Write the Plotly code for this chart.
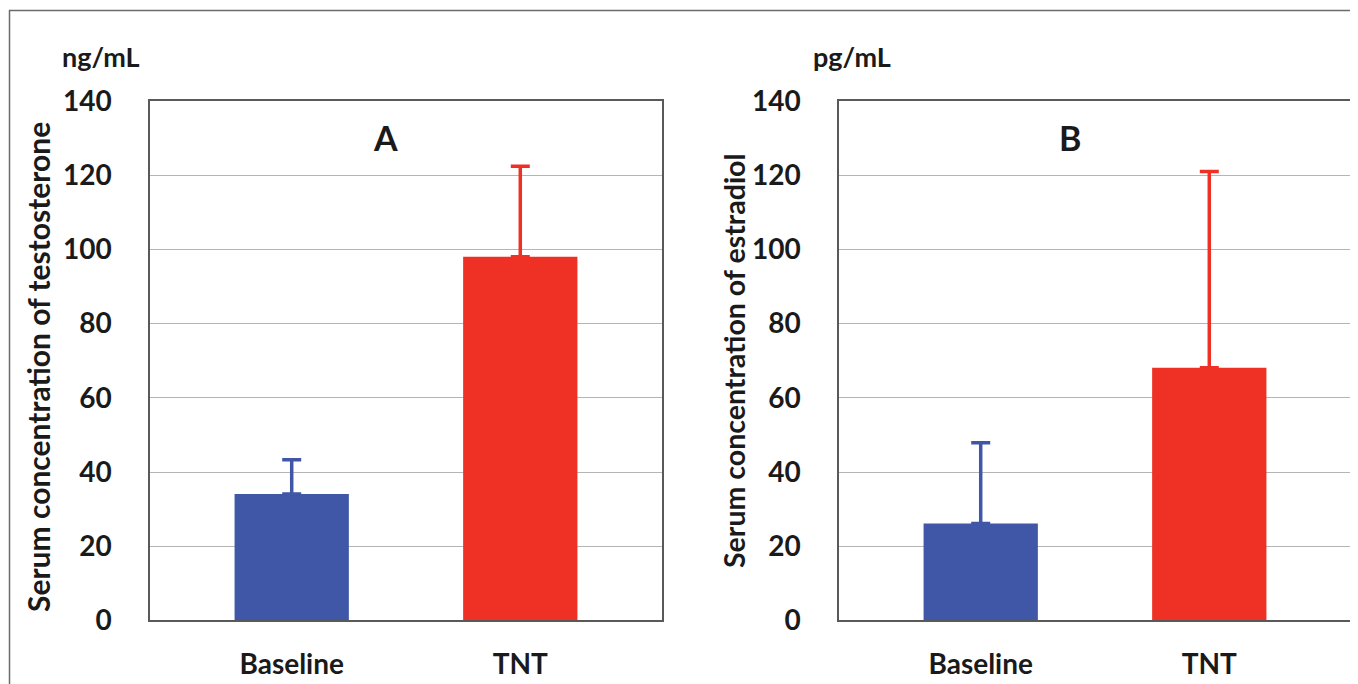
import plotly.graph_objects as go

W, H = 1358, 684
OFF = 8  # page body margin

categories = ["Baseline", "TNT"]
testosterone_mean = [34.1, 98.0]
testosterone_sd = [9.2, 24.4]
estradiol_mean = [26.1, 68.1]
estradiol_sd = [21.8, 52.9]
y_ticks = [0, 20, 40, 60, 80, 100, 120, 140]
bar_colors = ["#3F57A6", "#EE3124"]

FONT = "Lato"

def px_x(p):
    return (p - OFF) / W

def px_y(p):
    return 1 - (p - OFF) / H

fig = go.Figure()

for i, cat in enumerate(categories):
    fig.add_trace(go.Bar(
        x=[cat], y=[testosterone_mean[i]], width=0.5,
        marker=dict(color=bar_colors[i], line=dict(width=0)),
        error_y=dict(type="data", symmetric=False, array=[testosterone_sd[i]], arrayminus=[0],
                     color=bar_colors[i], thickness=3.5, width=9.5),
        xaxis="x", yaxis="y", showlegend=False))
    fig.add_trace(go.Bar(
        x=[cat], y=[estradiol_mean[i]], width=0.5,
        marker=dict(color=bar_colors[i], line=dict(width=0)),
        error_y=dict(type="data", symmetric=False, array=[estradiol_sd[i]], arrayminus=[0],
                     color=bar_colors[i], thickness=3.5, width=9.5),
        xaxis="x2", yaxis="y2", showlegend=False))

ydom = [px_y(620.4), px_y(101)]
common_x = dict(type="category", categoryorder="array", categoryarray=categories,
                range=[-0.62, 1.62], showline=True, linecolor="#595959", linewidth=1.5,
                mirror=True, showgrid=False, ticks="", ticklabelstandoff=18, automargin=False,
                tickfont=dict(family=FONT, size=28, color="#1a1a1a", weight="bold"))
common_y = dict(range=[0, 140], tickvals=y_ticks, showline=True, linecolor="#595959",
                linewidth=1.5, mirror=True, showgrid=True, gridcolor="#B5B5B5", gridwidth=1.2,
                zeroline=False, ticks="", ticklabelstandoff=31, automargin=False,
                tickfont=dict(family=FONT, size=28, color="#1a1a1a", weight="bold"))

fig.update_layout(
    template="none",
    width=W, height=H, margin=dict(l=0, r=0, t=0, b=0, autoexpand=False),
    paper_bgcolor="white", plot_bgcolor="white", barmode="overlay",
    xaxis=dict(domain=[px_x(150), px_x(662)], anchor="y", **common_x),
    yaxis=dict(domain=ydom, anchor="x", **common_y),
    xaxis2=dict(domain=[px_x(839), px_x(1351)], anchor="y2", **common_x),
    yaxis2=dict(domain=ydom, anchor="x2", **common_y),
)

ann = [
    dict(text="ng/mL", x=px_x(101), y=px_y(56), size=27, angle=0),
    dict(text="pg/mL", x=px_x(852), y=px_y(56), size=27, angle=0),
    dict(text="A", x=px_x(385), y=px_y(137), size=34, angle=0),
    dict(text="B", x=px_x(1070), y=px_y(137), size=34, angle=0),
    dict(text="Serum concentration of testosterone", x=px_x(38), y=px_y(367), size=30, angle=-90),
    dict(text="Serum concentration of estradiol", x=px_x(734), y=px_y(361), size=28.5, angle=-90),
]
for a in ann:
    fig.add_annotation(text=a["text"], x=a["x"], y=a["y"], xref="paper", yref="paper",
                       xanchor="center", yanchor="middle", showarrow=False, textangle=a["angle"],
                       font=dict(family=FONT, size=a["size"], color="#1a1a1a", weight="bold"))

# outer frame (top and left edges visible)
fig.add_shape(type="rect", xref="paper", yref="paper",
              x0=px_x(9.5), x1=px_x(1380), y0=px_y(710), y1=px_y(10.5),
              line=dict(color="#6b6b6b", width=1.5), fillcolor="rgba(0,0,0,0)")

fig.write_html("out.html", config={"displayModeBar": False})
